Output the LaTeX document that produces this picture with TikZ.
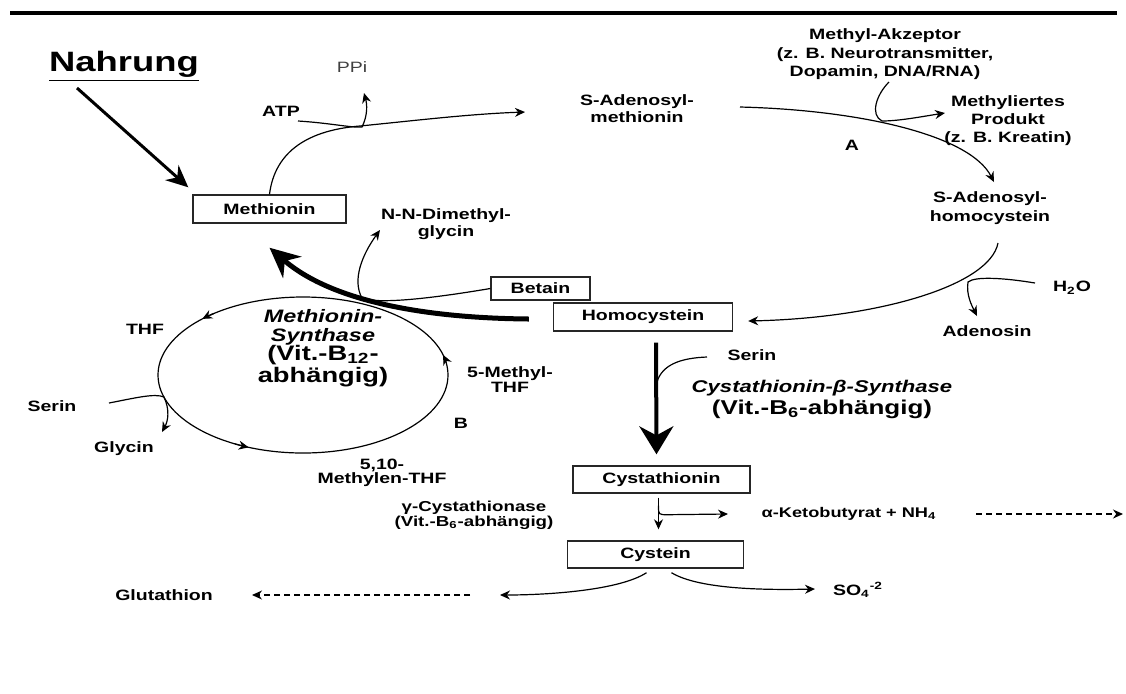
\documentclass[tikz,border=0pt]{standalone}
\usepackage{fontspec}
\setmainfont{Liberation Sans}[FakeStretch=1.3]
\usetikzlibrary{calc,arrows.meta}

\begin{document}
\begin{tikzpicture}[x=0.5pt,y=-0.5pt,
  lab/.style={font=\bfseries\fontsize{7.5}{8.5}\selectfont,align=center,inner sep=1pt},
  box/.style={lab,draw=black!85,line width=0.7pt,minimum height=14pt,inner sep=0pt},
  conn/.style={line width=0.6pt},
  arr/.style={conn,-{Stealth[length=5pt,width=4.5pt]}},
  dotarr/.style={arr,dash pattern=on 3pt off 2pt},
  bighead/.style n args={3}{line width=#1,-{Stealth[length=#2,width=#3]}}]
\useasboundingbox (0,0) rectangle (1126,693);
\draw[line width=2pt] (10,13) -- (1117,13);
% boxes
\node[box,minimum width=76.5pt] (met) at (269.5,209) {Methionin};
\node[box,minimum width=89.5pt] (hcy) at (643,317) {Homocystein};
\node[box,minimum width=49.5pt,minimum height=11.5pt] (bet) at (540.5,288.5) {Betain};
\node[box,minimum width=88.5pt,minimum height=13.5pt] (cysta) at (661.5,479.5) {Cystathionin};
\node[box,minimum width=88pt,minimum height=13.5pt] (cys) at (655.5,554.5) {Cystein};
% labels
\node[lab,font=\bfseries\fontsize{14}{16}\selectfont] (nahr) at (124,66) {\underline{Nahrung}};
\node[lab,font=\fontsize{7.5}{8.5}\selectfont,text=black!75] (ppi) at (352,67) {PPi};
\node[lab] (atp) at (281,111) {ATP};
\node[lab] (sam) at (637,108.5) {S-Adenosyl-\\methionin};
\node[lab,font=\bfseries\fontsize{7.5}{9.25}\selectfont] (akz) at (885,54.5) {Methyl-Akzeptor\\(z. B. Neurotransmitter,\\Dopamin, DNA/RNA)};
\node[lab,font=\bfseries\fontsize{7.5}{9}\selectfont] (mprod) at (1008,121) {Methyliertes\\Produkt\\(z. B. Kreatin)};
\node[lab] (enzA) at (852,145) {A};
\node[lab,font=\bfseries\fontsize{7.5}{9.5}\selectfont] (sah) at (990,208.5) {S-Adenosyl-\\homocystein};
\node[lab] (h2o) at (1072,288) {H\textsubscript{2}O};
\node[lab] (ado) at (987,331) {Adenosin};
\node[lab] (nndmg) at (446,224.5) {N-N-Dimethyl-\\glycin};
\node[lab] (thf) at (145,329) {THF};
\node[lab] (serl) at (52,406) {Serin};
\node[lab] (gly) at (124,449) {Glycin};
\node[lab,font=\bfseries\itshape\fontsize{9}{9.5}\selectfont] (ms) at (323,327.5) {Methionin-\\Synthase};
\node[lab,font=\bfseries\fontsize{10.5}{9}\selectfont] (msvit) at (323,366) {(Vit.-B\textsubscript{12}-\\abhängig)};
\node[lab,font=\bfseries\fontsize{7.5}{7.5}\selectfont] (mthf) at (510,379.5) {5-Methyl-\\THF};
\node[lab] (enzB) at (461,423) {B};
\node[lab,font=\bfseries\fontsize{7.5}{7}\selectfont] (mlthf) at (382,473) {5,10-\\Methylen-THF};
\node[lab] (serr) at (752,355) {Serin};
\node[lab,font=\bfseries\itshape\fontsize{8.5}{10}\selectfont] (cbs) at (822,388) {Cystathionin-β-Synthase};
\node[lab,font=\bfseries\fontsize{10}{12}\selectfont] (cbsvit) at (822,409) {(Vit.-B\textsubscript{6}-abhängig)};
\node[lab,font=\bfseries\fontsize{7.2}{7.5}\selectfont] (cgl) at (474,515.5) {γ-Cystathionase\\(Vit.-B\textsubscript{6}-abhängig)};
\node[lab,font=\bfseries\fontsize{7}{8}\selectfont] (akb) at (849,514) {α-Ketobutyrat + NH\textsubscript{4}};
\node[lab] (glut) at (164,595) {Glutathion};
\node[lab] (so4) at (858,590) {SO\textsubscript{4}\textsuperscript{-2}};
% free ends
\coordinate (nahrfoot) at (77,88);
\coordinate (samin) at (525,112);
\coordinate (atpfoot) at (298,121);
\coordinate (ppitip) at (364,93);
\coordinate (samfoot) at (740,107);
\coordinate (sahtip) at (994,182);
\coordinate (akzfoot) at (889,82);
\coordinate (mprodtip) at (945,113);
\coordinate (sahfoot) at (998,243);
\coordinate (h2ofoot) at (1035,283);
\coordinate (adotip) at (977,316);
\coordinate (nndmgtip) at (380,230);
\coordinate (cyc) at (303,375);
\coordinate (serlfoot) at (109,403);
\coordinate (glytip) at (162,432);
\coordinate (serrfoot) at (707,357);
\coordinate (akbtip) at (728,514);
\coordinate (kbstart) at (976,514);
\coordinate (kbend) at (1123,514);
\coordinate (glutin) at (500,595);
\coordinate (glutstart) at (470,595);
\coordinate (glutend) at (252,595);
\coordinate (so4in) at (815,589);
% methionine cycle
\draw[bighead={1.5pt}{11pt}{10pt}] (nahrfoot) -- ($(met.north west)+(-4,-7)$);
\draw[arr] (met.north) .. controls (275,150) and (310,130) .. (360,126) .. controls (420,120) and (470,114) .. (samin);
\draw[arr] (atpfoot) .. controls (330,123) and (352,128) .. (362,127) .. controls (368,115) and (367,104) .. (ppitip);
\draw[arr] (samfoot) .. controls (860,110) and (970,135) .. (sahtip);
\draw[arr] (akzfoot) .. controls (876,95) and (870,115) .. (882,121) .. controls (900,121) and (925,116) .. (mprodtip);
\draw[arr] (sahfoot) .. controls (990,285) and (880,318) .. ($(hcy.east)+(15,4)$);
\draw[arr] (h2ofoot) .. controls (1005,278) and (975,276) .. (968,282) .. controls (966,295) and (972,306) .. (adotip);
\draw[bighead={2.5pt}{15pt}{14pt}] ($(hcy.west)+(-24,2)$) .. controls (420,318) and (330,300) .. ($(met.south)+(0,24)$);
\draw[arr] (bet.west) .. controls (440,297) and (380,305) .. (362,298) .. controls (352,280) and (362,255) .. (nndmgtip);
% folate cycle
\draw[conn] (cyc) ellipse [x radius=72.5pt,y radius=39pt];
\foreach \a in {15,134,248}
  \draw[arr] (cyc) ++(\a-6:72.5pt and 39pt) arc[start angle=\a-6,end angle=\a,x radius=72.5pt,y radius=39pt];
\draw[arr] (serlfoot) .. controls (135,398) and (155,393) .. (164,397) .. controls (170,410) and (168,421) .. (glytip);
% transsulfuration
\draw[bighead={2pt}{14pt}{17pt}] ($(hcy.south)+(13,11)$) -- ($(cysta.north)+(-5,-11)$);
\draw[conn] (serrfoot) .. controls (680,358) and (662,365) .. (657,382);
\draw[arr] ($(cysta.south)+(-3,4)$) -- ($(cys.north)+(3,-11)$);
\draw[arr] ($(cysta.south)+(-3,12)$) .. controls ($(cysta.south)+(-3,21)$) .. ($(cysta.south)+(6,21)$) -- (akbtip);
\draw[dotarr] (kbstart) -- (kbend);
\draw[arr] ($(cys.south)+(-9,4)$) .. controls (620,590) and (550,595) .. (glutin);
\draw[dotarr] (glutstart) -- (glutend);
\draw[arr] ($(cys.south)+(16,4)$) .. controls (700,590) and (770,590) .. (so4in);
\end{tikzpicture}
\end{document}
